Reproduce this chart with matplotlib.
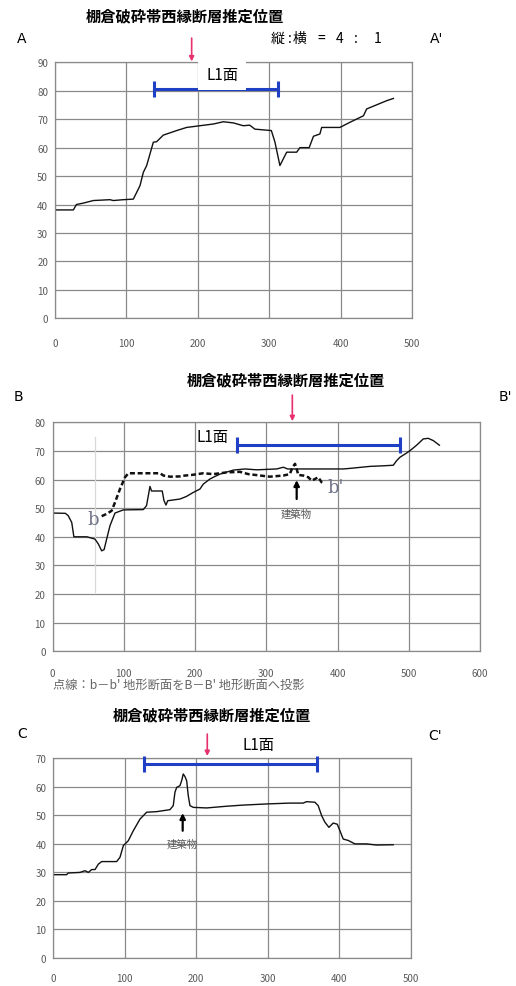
import matplotlib
matplotlib.use("Agg")
import matplotlib.pyplot as plt

plt.rcParams['font.family'] = ['Noto Sans CJK JP', 'DejaVu Sans']

# --- data ------------------------------------------------------------------
title = '棚倉破砕帯西縁断層推定位置'
scale_parts = ['縦', ':', '横', '=', '4', ':', '1']

# profile A-A'
a_x = [0, 25.7, 30, 39.7, 53.6, 77, 81.7, 95.7, 109.7, 119, 123.7, 128.4, 137.7,
       142.4, 151.7, 170.4, 184.4, 203, 221.7, 235.7, 249.7, 263.7, 272.7, 280,
       303, 308, 315, 324.5, 338.5, 343, 356, 362, 371, 373.5, 399, 413, 432,
       436.5, 464.5, 474]
a_y = [38.1, 38.1, 40, 40.5, 41.4, 41.7, 41.4, 41.7, 41.9, 46.6, 51.3, 53.7, 61.9,
       62.1, 64.4, 66, 67.1, 67.7, 68.3, 69.1, 68.7, 67.7, 67.9, 66.5,
       66, 62, 53.7, 58.4, 58.4, 60, 60, 64, 64.8, 67.1, 67.1, 68.9, 71.2,
       73.6, 76.5, 77.3]

# profile B-B' (solid)
b_x = [0, 18, 22, 27, 30, 48.4, 59.6, 64.3, 69, 72.4, 76, 80.7, 87.7, 99.4, 127.4,
       132, 136.8, 139, 154, 156.5, 159.3, 161.7, 179, 188, 197.6, 207, 211.6,
       221, 225.7, 235, 253.8, 270, 286.6, 314.6, 324, 330, 408, 417.5, 445.6,
       464.3, 478.3, 483, 487.7, 494.7, 501.8, 511, 520.4, 527.4, 534.5, 543]
b_y = [48.3, 48.2, 47.4, 45, 40, 40, 39.2, 37.5, 35.1, 35.5, 39.2, 43.9, 48.3, 49.4,
       49.5, 50.9, 57.6, 56, 56, 52.6, 51.1, 52.6, 53.2, 54.1, 55.5, 56.7, 58.4,
       60.2, 60.8, 61.9, 63.3, 63.7, 63.4, 63.7, 64.3, 63.7, 63.7, 63.9, 64.6,
       64.8, 65, 66.6, 67.8, 68.9, 70.1, 72, 74.2, 74.4, 73.6, 72]

# profile b-b' projected (dotted)
bb_x = [69, 76, 83, 87.7, 94.7, 101.8, 106.4, 151, 155.7, 165, 179, 186, 195.4,
        211.6, 225.7, 244.5, 263, 274.8, 305, 324, 333, 337, 340.4, 342.7, 345,
        352, 359, 363.8, 373, 377.8, 381]
bb_y = [47.2, 48, 49.1, 52, 56.7, 60.8, 62.2, 62.2, 61.4, 61, 61.1, 61.4, 61.6,
        62.2, 61.9, 62.5, 62.7, 61.9, 61, 61.4, 61.9, 64.3, 65.5, 63.7, 61.6,
        61.4, 60.8, 59.6, 60.8, 59, 58.4]

# profile C-C'
c_x = [0, 18.6, 21, 37.3, 44.3, 49, 53.7, 58.4, 63, 67.7, 88.6, 93.3, 98, 104.9,
       111.9, 121.3, 130.6, 144.6, 163.2, 167.8, 170.2, 172.6, 177.2, 179.5,
       181.8, 184.2, 186.6, 188.8, 191.2, 195.8, 214.5, 242.5, 265.7, 298.4,
       331, 349.6, 354.2, 366, 370.6, 375.4, 380, 385.6, 391.6, 397.3, 401,
       405.6, 412.6, 422, 438.2, 452, 475.5]
c_y = [29.2, 29.2, 29.8, 30, 30.6, 30, 31, 31, 32.9, 33.8, 33.8, 35.3, 39.4, 41.1,
       44.6, 48.7, 51.1, 51.3, 52, 53.4, 58.1, 59.8, 60.4, 62.1, 64.5, 63.6,
       62.1, 56.9, 53.4, 52.8, 52.6, 53.2, 53.6, 54, 54.3, 54.3, 54.8, 54.6,
       53.4, 49.9, 47.6, 45.8, 47.3, 46.9, 44.6, 41.7, 41.2, 40, 40, 39.6, 39.7]

# L1 surface extents and fault positions
a_l1 = [138.7, 312]
b_l1 = [259.4, 487.7]
c_l1 = [127.3, 369.2]
a_fault, b_fault, c_fault = 191.4, 336.6, 215.4

W, H = 516, 987
fig = plt.figure(figsize=(W / 100, H / 100), dpi=100)

GRID = '#8a8a8a'
PINK = '#e8306e'
BLUE = '#1f3fc4'


def px_axes(left, top, right, bottom):
    return fig.add_axes([left / W, 1 - bottom / H, (right - left) / W, (bottom - top) / H])


def style(ax, xmax, ymax, xpad):
    ax.set_xlim(0, xmax)
    ax.set_ylim(0, ymax)
    ax.set_xticks(range(0, xmax + 1, 100))
    ax.set_yticks(range(0, ymax + 1, 10))
    ax.grid(True, color=GRID, lw=0.9)
    ax.set_axisbelow(True)
    for s in ax.spines.values():
        s.set_color(GRID)
        s.set_linewidth(0.9)
    ax.tick_params(length=0, labelsize=7, labelcolor='#5a5a5a')
    ax.tick_params(axis='x', pad=xpad)
    ax.tick_params(axis='y', pad=5)


def l1_bar(ax, ext, y):
    ax.plot(ext, [y, y], color=BLUE, lw=2.2, clip_on=False, zorder=5)
    ax.plot(ext, [y, y], ls='none', marker='|', ms=11, mew=2.2, color=BLUE,
            clip_on=False, zorder=5)


def fault_arrow(ax, x, y0, y1):
    ax.annotate('', xy=(x, y1), xytext=(x, y0), annotation_clip=False,
                arrowprops=dict(arrowstyle='-|>', color=PINK, lw=1.2,
                                mutation_scale=7, shrinkA=0, shrinkB=0))


def building(ax, x, y_text, y0, y1):
    ax.annotate('', xy=(x, y1), xytext=(x, y0),
                arrowprops=dict(arrowstyle='-|>', color='black', lw=1.6,
                                mutation_scale=8, shrinkA=0, shrinkB=0))
    ax.text(x, y_text, '建築物', fontsize=7.5, color='#555555', ha='center', va='center')


# ---------------- A ----------------
axA = px_axes(55, 63.3, 412, 319.3)
style(axA, 500, 90, 14)
axA.plot(a_x, a_y, color='#111111', lw=1.0)
l1_bar(axA, a_l1, 80.6)
axA.text(234, 85.8, 'L1面', fontsize=11, ha='center', va='center', zorder=6,
         bbox=dict(boxstyle='square,pad=0.5', fc='white', ec='none'))
fault_arrow(axA, a_fault, 98.5, 90.3)
fig.text(185 / W, 1 - 16 / H, title, fontsize=11, fontweight='bold', ha='center', va='center')
fig.text(22 / W, 1 - 39 / H, 'A', fontsize=10, ha='center', va='center', family='DejaVu Sans')
fig.text(437 / W, 1 - 39 / H, "A'", fontsize=10, ha='center', va='center', family='DejaVu Sans')
# scale note, one glyph group at a time to keep the wide spacing
for part, px in zip(scale_parts, [278, 289.5, 300, 321, 340, 356, 378]):
    fig.text(px / W, 1 - 39 / H, part, fontsize=10, ha='center', va='center')

# ---------------- B ----------------
axB = px_axes(52.5, 423.3, 480, 652.3)
style(axB, 600, 80, 12)
axB.plot([59.6, 59.6], [20.7, 75], color='#d8d8d8', lw=0.9, zorder=1)
axB.plot(b_x, b_y, color='#111111', lw=1.0)
axB.plot(bb_x, bb_y, color='#111111', lw=1.8, ls=(0, (2.0, 1.1)))
l1_bar(axB, b_l1, 72)
axB.text(225, 75.2, 'L1面', fontsize=11, ha='center', va='center')
fault_arrow(axB, b_fault, 89.5, 80.4)
axB.text(57, 46.3, 'b', fontsize=13, color='#6f7388', family='DejaVu Serif', ha='center', va='center')
axB.text(398, 57.5, "b'", fontsize=13, color='#6f7388', family='DejaVu Serif', ha='center', va='center')
building(axB, 342.7, 48.3, 53.2, 59.8)
fig.text(286 / W, 1 - 380 / H, title, fontsize=11, fontweight='bold', ha='center', va='center')
fig.text(18 / W, 1 - 397 / H, 'B', fontsize=10, ha='center', va='center', family='DejaVu Sans')
fig.text(505 / W, 1 - 397 / H, "B'", fontsize=10, ha='center', va='center', family='DejaVu Sans')
fig.text(53 / W, 1 - 685 / H, "点線：b－b' 地形断面をB－B' 地形断面へ投影",
         fontsize=8.8, color='#666666', ha='left', va='center')

# ---------------- C ----------------
axC = px_axes(53.3, 759.3, 410.7, 959)
style(axC, 500, 70, 11)
axC.plot(c_x, c_y, color='#111111', lw=1.0)
l1_bar(axC, c_l1, 68)
axC.text(287.7, 74.8, 'L1面', fontsize=11, ha='center', va='center')
fault_arrow(axC, c_fault, 78.5, 70.8)
building(axC, 181, 40, 44.6, 50.8)
fig.text(212 / W, 1 - 715 / H, title, fontsize=11, fontweight='bold', ha='center', va='center')
fig.text(22 / W, 1 - 734 / H, 'C', fontsize=10, ha='center', va='center', family='DejaVu Sans')
fig.text(435 / W, 1 - 736 / H, "C'", fontsize=10, ha='center', va='center', family='DejaVu Sans')

fig.savefig('out.png', dpi=100)
